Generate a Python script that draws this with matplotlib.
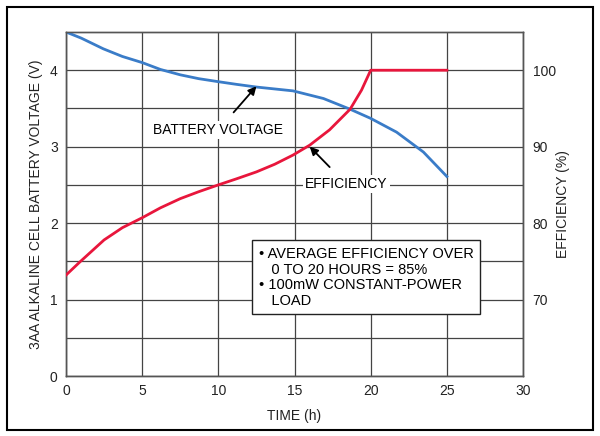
import numpy as np
import matplotlib.pyplot as plt
from matplotlib.patches import Rectangle

plt.rcParams['font.family'] = ['Liberation Sans', 'DejaVu Sans']

# battery voltage (V) vs time (h)
t_volt = [0, 1, 2.45, 3.7, 5, 6.2, 7.5, 8.7, 10, 11.2, 12.5, 13.7, 14.9, 16.9, 18.65,
          20, 21.7, 23.46, 25]
volt = [4.5, 4.42, 4.28, 4.18, 4.10, 4.01, 3.94, 3.89, 3.85, 3.815, 3.78, 3.755, 3.73,
        3.63, 3.49, 3.37, 3.19, 2.93, 2.61]

# efficiency (%) vs time (h)
t_eff = [0, 0.9, 2.5, 3.7, 5, 6.2, 7.5, 8.7, 10, 11.2, 12.5, 13.7, 14.9, 16.0, 17.3,
         18.65, 19.4, 19.7, 20, 25]
eff = [73.2, 74.9, 77.8, 79.4, 80.7, 82.0, 83.2, 84.1, 85.0, 85.8, 86.7, 87.7, 88.9,
       90.2, 92.2, 94.9, 97.4, 98.7, 100.0, 100.0]

volt_ticks = [0, 1, 2, 3, 4]
eff_ticks = [70, 80, 90, 100]
time_ticks = [0, 5, 10, 15, 20, 25, 30]

note = ("• AVERAGE EFFICIENCY OVER\n   0 TO 20 HOURS = 85%\n"
        "• 100mW CONSTANT-POWER\n   LOAD")

fig = plt.figure(figsize=(6, 4.36), dpi=100)
fig.patches.append(Rectangle((0.0117, 0.0138), 0.977, 0.970, transform=fig.transFigure,
                             fill=False, edgecolor='black', linewidth=1.5))
ax = fig.add_axes([0.11, 0.1376, 0.7617, 0.789])
ax2 = ax.twinx()

ax.set_xlim(0, 30)
ax.set_ylim(0, 4.5)
ax2.set_ylim(60, 105)

ax.set_xticks(time_ticks)
ax.set_yticks(volt_ticks)
ax.set_yticks(np.arange(0.5, 4.5, 1.0), minor=True)
ax2.set_yticks(eff_ticks)
ax.tick_params(length=0, labelsize=10, colors='#222222', pad=6)
ax.tick_params(which='minor', length=0)
ax2.tick_params(length=0, labelsize=10, colors='#222222', pad=7)

ax.grid(True, which='both', color='#444444', linewidth=0.9)
ax.set_axisbelow(True)
for a in (ax, ax2):
    for s in a.spines.values():
        s.set_color('#555555')
        s.set_linewidth(1.0)

ax.plot(t_volt, volt, color='#3a7cc8', linewidth=2, zorder=3)
ax2.plot(t_eff, eff, color='#e8163c', linewidth=2, zorder=3)

ax.set_xlabel('TIME (h)', fontsize=10, color='#222222', labelpad=8)
ax.set_ylabel('3AA ALKALINE CELL BATTERY VOLTAGE (V)', fontsize=10, color='#222222', labelpad=5)
ax2.set_ylabel('EFFICIENCY (%)', fontsize=10, color='#222222', labelpad=0)

wbox = dict(facecolor='white', edgecolor='none', pad=1.5)
ax2.annotate('BATTERY VOLTAGE', xy=(12.5, 3.79), xytext=(10, 3.22),
             xycoords=ax.transData, textcoords=ax.transData,
             ha='center', va='center', fontsize=10, bbox=wbox,
             arrowprops=dict(arrowstyle='-|>', color='black', lw=1.3, mutation_scale=12,
                             shrinkA=8, shrinkB=0), zorder=5)
ax2.annotate('EFFICIENCY', xy=(16.0, 3.0), xytext=(18.4, 2.51),
             xycoords=ax.transData, textcoords=ax.transData,
             ha='center', va='center', fontsize=10, bbox=wbox,
             arrowprops=dict(arrowstyle='-|>', color='black', lw=1.3, mutation_scale=12,
                             shrinkA=8, shrinkB=0), zorder=5)

ax2.text(12.65, 1.29, note, transform=ax.transData, ha='left', va='center', fontsize=10.5,
         linespacing=1.15, zorder=5,
         bbox=dict(facecolor='white', edgecolor='#222222', linewidth=1.0,
                   boxstyle='square,pad=0.45'))

fig.savefig('out.png', dpi=100)
